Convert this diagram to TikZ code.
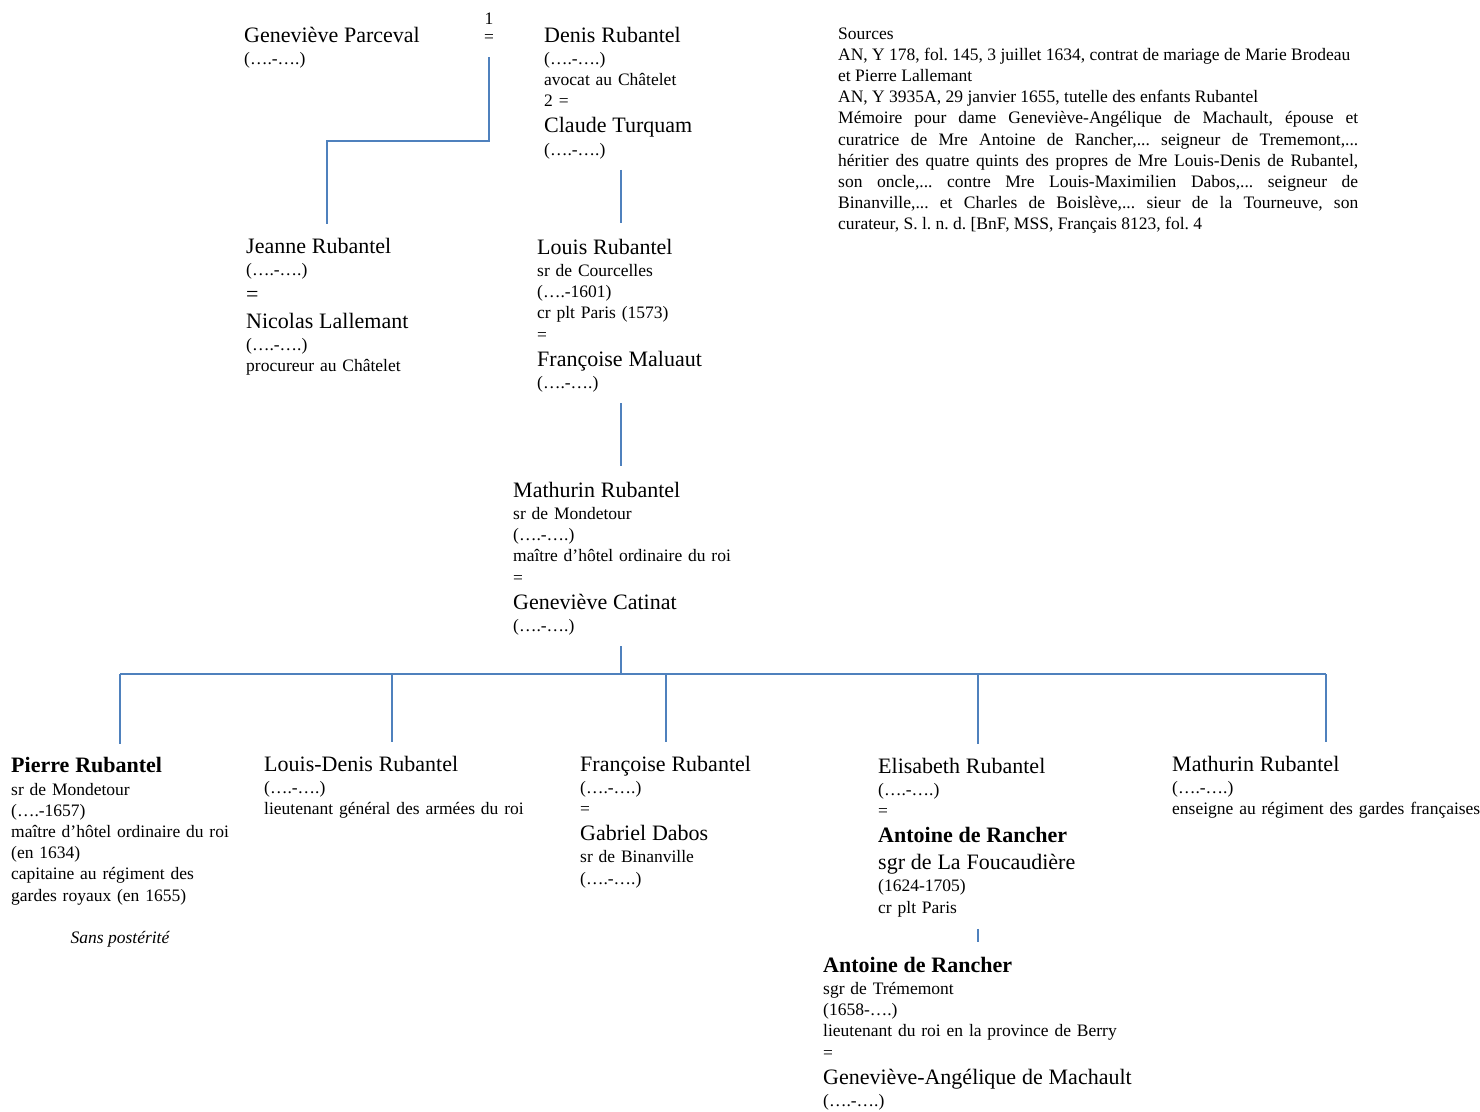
\documentclass[tikz,border=0pt]{standalone}
\usepackage{fontspec}
\setmainfont{Liberation Serif}
\definecolor{lienbleu}{HTML}{4F81BD}
\newcommand\nm[1]{\par{\fontsize{22}{26}\selectfont\strut#1\par}\vskip1pt}
\newcommand\nmb[1]{\nm{\bfseries#1}}
\frenchspacing

\begin{document}
\begin{tikzpicture}[x=1pt,y=-1pt,
  pers/.style={anchor=north west,inner sep=0pt,text width=340pt,align=left,font={\fontsize{17.5}{21.2}\selectfont\parindent=0pt\lineskiplimit=-\maxdimen}},
  sml/.style={inner sep=0pt,font=\fontsize{17.5}{21.2}\selectfont},
  link/.style={draw=lienbleu,line width=1.8pt}]
\path[use as bounding box,fill=white] (0,0) rectangle (1480,1111);
\node[pers] (genevieve) at (244,16) {\nm{Geneviève Parceval}(….-….)};
\node[sml] (one) at (489,19) {1};\node[sml] (eq1) at (489,38) {=};
\node[pers] (denis) at (544,16) {\nm{Denis Rubantel}(….-….)\par avocat au Châtelet\par 2 =\nm{Claude Turquam}(….-….)};
\node[pers,text width=520pt,align=justify,font={\fontsize{17.5}{21.2}\selectfont\parindent=0pt\tolerance=10000}] (sources) at (838,24) {\strut Sources\par
AN, Y 178, fol. 145, 3 juillet 1634, contrat de mariage de Marie Brodeau\newline et Pierre Lallemant\par
AN, Y 3935A, 29 janvier 1655, tutelle des enfants Rubantel\par
Mémoire pour dame Geneviève-Angélique de Machault, épouse et\linebreak curatrice de Mre Antoine de Rancher,... seigneur de Trememont,...\linebreak héritier des quatre quints des propres de Mre Louis-Denis de Rubantel,\linebreak son oncle,... contre Mre Louis-Maximilien Dabos,... seigneur de\linebreak Binanville,... et Charles de Boislève,... sieur de la Tourneuve, son\linebreak curateur, S. l. n. d. [BnF, MSS, Français 8123, fol. 4};
\node[pers] (jeanne) at (246,227) {\nm{Jeanne Rubantel}(….-….)\nm{=}\nm{Nicolas Lallemant}(….-….)\par procureur au Châtelet};
\node[pers] (louis) at (537,228) {\nm{Louis Rubantel}sr de Courcelles\par(….-1601)\par cr plt Paris (1573)\par =\nm{Françoise Maluaut}(….-….)};
\node[pers] (mathurin) at (513,471) {\nm{Mathurin Rubantel}sr de Mondetour\par(….-….)\par maître d’hôtel ordinaire du roi\par =\nm{Geneviève Catinat}(….-….)};
\node[pers] (pierre) at (11,746.7) {\nmb{Pierre Rubantel}sr de Mondetour\par(….-1657)\par maître d’hôtel ordinaire du roi\par(en 1634)\par capitaine au régiment des\par gardes royaux (en 1655)};
\node[sml,anchor=base,font={\fontsize{17.5}{21.2}\selectfont\itshape}] (sans) at (120,943) {Sans postérité};
\node[pers] (louisdenis) at (264,745) {\nm{Louis-Denis Rubantel}(….-….)\par lieutenant général des armées du roi};
\node[pers] (francoise) at (580,745) {\nm{Françoise Rubantel}(….-….)\par =\nm{Gabriel Dabos}sr de Binanville\par(….-….)};
\node[pers] (elisabeth) at (878,747) {\nm{Elisabeth Rubantel}(….-….)\par =\nmb{Antoine de Rancher}\nm{sgr de La Foucaudière}(1624-1705)\par cr plt Paris};
\node[pers] (mathurinf) at (1172,745) {\nm{Mathurin Rubantel}(….-….)\par enseigne au régiment des gardes françaises};
\node[pers] (antoine) at (823,946) {\nmb{Antoine de Rancher}sgr de Trémemont\par(1658-….)\par lieutenant du roi en la province de Berry\par =\nm{Geneviève-Angélique de Machault}(….-….)};
\draw[link] ([yshift=-19pt]eq1.center) |- (327,141) -- ([yshift=3pt]jeanne.north -| 327,0);
\draw[link] ([yshift=-11pt]denis.south -| 621,0) -- ([yshift=5pt]louis.north -| 621,0);
\draw[link] ([yshift=-11pt]louis.south -| 621,0) -- ([yshift=5pt]mathurin.north -| 621,0);
\draw[link] ([yshift=-11pt]mathurin.south -| 621,0) -- (621,674);
\draw[link] (120,674) -- (1326,674);
\foreach \c/\x in {pierre/120,louisdenis/392,francoise/666,elisabeth/978,mathurinf/1326}{\draw[link] (\x,674) -- ([yshift=3pt]\c.north -| \x,0);}
\draw[link] ([yshift=-12pt]elisabeth.south -| 978,0) -- ([yshift=4pt]antoine.north -| 978,0);
\end{tikzpicture}
\end{document}
